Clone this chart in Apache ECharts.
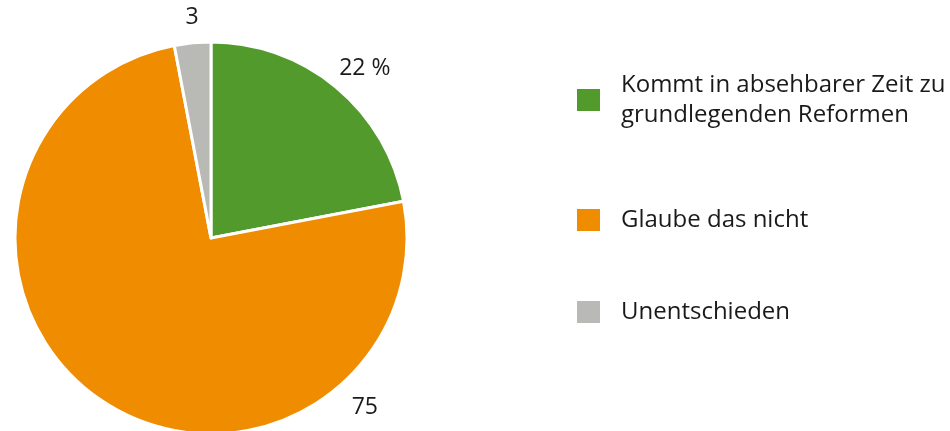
<!DOCTYPE html>
<html>
<head>
<meta charset="utf-8">
<script src="https://cdn.jsdelivr.net/npm/echarts@6/dist/echarts.min.js"></script>
<style>
  html, body { margin: 0; padding: 0; background: #fff; }
  #main { width: 950px; height: 431px; }
</style>
</head>
<body>
<div id="main"></div>
<script>
var categories = ['Kommt in absehbarer Zeit zu\ngrundlegenden Reformen', 'Glaube das nicht', 'Unentschieden'];
var values = [22, 75, 3];
var labelTexts = ['22 %', '75', '3'];
var colors = ['#529a2b', '#f08c00', '#b9b9b5'];

var cx = 211, cy = 238, radius = 196;
// label angles (degrees, counter-clockwise from 3 o'clock) as placed in the original
var labelAngles = [47.8, -47.8, 94.9];
var labelDist = [229, 229, 221];

var myChart = echarts.init(document.getElementById('main'));
var font = "'Open Sans', 'Noto Sans', sans-serif";

function legendFor(idx, top, padTop) {
    return {
        orient: 'vertical',
        left: 575,
        top: top,
        padding: 0,
        selectedMode: false,
        icon: 'rect',
        itemWidth: 25,
        itemHeight: 24,
        data: [categories[idx]],
        textStyle: {
            fontFamily: font,
            fontSize: 24,
            lineHeight: 30,
            color: '#1a1a1a',
            padding: [padTop, 0, 0, 15]
        }
    };
}

var option = {
    backgroundColor: '#fff',
    animation: false,
    color: colors,
    legend: [
        legendFor(0, 55, 30),
        legendFor(1, 205, 0),
        legendFor(2, 297, 0)
    ],
    series: [
        {
            type: 'pie',
            center: [cx, cy],
            radius: radius,
            startAngle: 90,
            clockwise: true,
            itemStyle: { borderColor: '#fff', borderWidth: 3 },
            label: {
                show: true,
                position: 'outside',
                fontFamily: font,
                fontSize: 23,
                color: '#1a1a1a',
                formatter: function (p) { return labelTexts[p.dataIndex]; }
            },
            labelLine: { show: false },
            labelLayout: function (p) {
                var a = labelAngles[p.dataIndex] * Math.PI / 180;
                var d = labelDist[p.dataIndex];
                return {
                    x: cx + d * Math.cos(a),
                    y: cy - d * Math.sin(a),
                    align: 'center',
                    verticalAlign: 'middle'
                };
            },
            data: categories.map(function (c, i) {
                return { name: c, value: values[i] };
            })
        }
    ]
};
myChart.setOption(option);
</script>
</body>
</html>
